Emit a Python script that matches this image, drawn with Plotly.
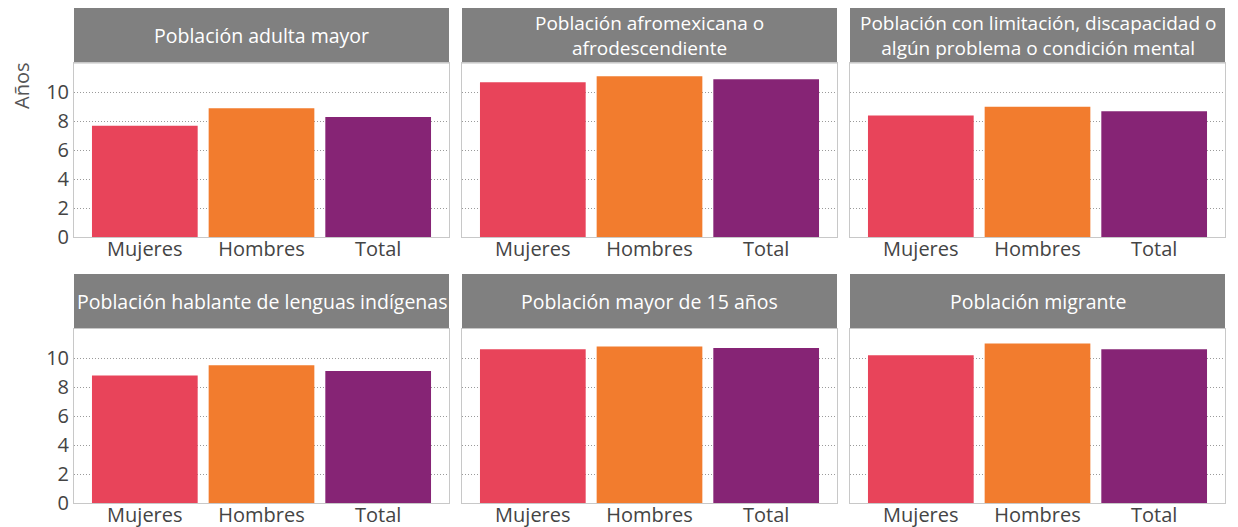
import plotly.graph_objects as go

categories = ["Mujeres", "Hombres", "Total"]
panel_titles = [
    "Población adulta mayor",
    "Población afromexicana o<br>afrodescendiente",
    "Población con limitación, discapacidad o<br>algún problema o condición mental",
    "Población hablante de lenguas indígenas",
    "Población mayor de 15 años",
    "Población migrante",
]
adulta_mayor = [7.7, 8.9, 8.3]
afromexicana = [10.7, 11.1, 10.9]
discapacidad = [8.4, 9.0, 8.7]
indigena = [8.8, 9.5, 9.1]
mayor_15 = [10.6, 10.8, 10.7]
migrante = [10.2, 11.0, 10.6]
series = [adulta_mayor, afromexicana, discapacidad, indigena, mayor_15, migrante]
bar_colors = ["#E8445A", "#F27C2E", "#862475"]
y_ticks = [0, 2, 4, 6, 8, 10]
y_title = "Años"

W, H = 1238, 527
x_px = [(74, 449), (462, 837), (850, 1225)]
row_px = [(63.3, 237.3), (329, 503.3)]
header_px = [(8, 63.3), (274, 329)]

fig = go.Figure()
font_family = "Open Sans"

for i, vals in enumerate(series):
    r, c = divmod(i, 3)
    n = i + 1
    xa = "x" if n == 1 else f"x{n}"
    ya = "y" if n == 1 else f"y{n}"
    fig.add_trace(go.Bar(
        x=categories, y=vals, marker=dict(color=bar_colors, line=dict(width=0)),
        xaxis=xa, yaxis=ya, showlegend=False,
        hovertemplate="%{x}: %{y}<extra></extra>",
    ))
    xd = [x_px[c][0] / W, x_px[c][1] / W]
    yd = [1 - row_px[r][1] / H, 1 - row_px[r][0] / H]
    axname_x = "xaxis" if n == 1 else f"xaxis{n}"
    axname_y = "yaxis" if n == 1 else f"yaxis{n}"
    fig.layout[axname_x] = dict(
        domain=xd, anchor=ya, range=[-0.607, 2.607],
        showline=True, mirror=True, linecolor="#c8c8c8",
        linewidth=1, showgrid=False, ticks="", automargin=False,
        ticklabelstandoff=-6,
        tickfont=dict(size=20, color="#444444", family=font_family),
    )
    fig.layout[axname_y] = dict(
        domain=yd, anchor=xa, range=[0, 12], tickvals=y_ticks, automargin=False,
        showticklabels=(c == 0), showline=True, mirror=True, linecolor="#c8c8c8",
        linewidth=1, showgrid=True, gridcolor="#9a9a9a", griddash="1px,2px",
        gridwidth=1, zeroline=False, ticks="",
        tickfont=dict(size=20, color="#444444", family=font_family),
    )
    # header
    fig.add_shape(type="rect", xref="paper", yref="paper",
                  x0=xd[0], x1=xd[1],
                  y0=1 - header_px[r][1] / H, y1=1 - header_px[r][0] / H,
                  fillcolor="#808080", line=dict(width=0), layer="below")
    two_lines = "<br>" in panel_titles[i]
    fig.add_annotation(
        xref="paper", yref="paper", x=(xd[0] + xd[1]) / 2,
        y=1 - (header_px[r][0] + header_px[r][1]) / 2 / H,
        text=panel_titles[i], showarrow=False, xanchor="center", yanchor="middle",
        align="center",
        font=dict(size=19 if two_lines else 19.5, color="white", family=font_family),
    )

fig.add_annotation(
    xref="paper", yref="paper", x=21 / W, y=1 - 86 / H, text=y_title,
    textangle=-90, showarrow=False, xanchor="center", yanchor="middle",
    font=dict(size=20, color="#555555", family=font_family),
)

fig.update_layout(
    width=W, height=H, autosize=False, margin=dict(l=0, r=0, t=0, b=0, pad=0),
    paper_bgcolor="white", plot_bgcolor="white", bargap=0.094,
    font=dict(family=font_family),
)

fig.write_html(
    "out.html",
    config={"displayModeBar": False, "responsive": False},
    post_script=(
        "document.documentElement.style.margin='0px';"
        "document.body.style.margin='0px';"
        "document.body.style.overflow='hidden';"
    ),
)
